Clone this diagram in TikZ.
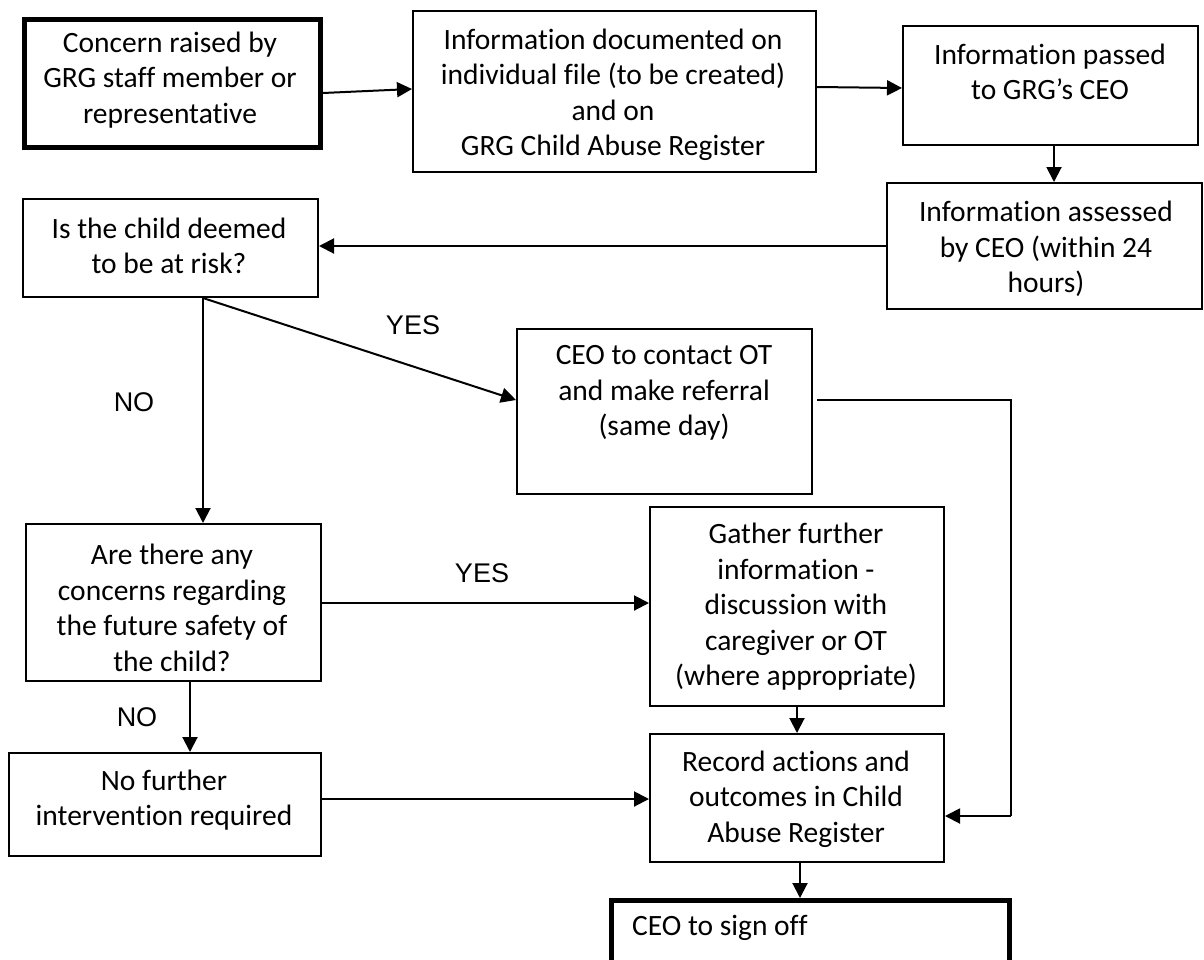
\documentclass[tikz,border=0pt]{standalone}
\usepackage{fontspec}
\setmainfont{Carlito}[Ligatures=NoCommon]
\newfontfamily\arialfont{Liberation Sans}
\usetikzlibrary{arrows.meta}
\tikzset{
  box/.style={draw, line width=2pt, inner sep=0pt, anchor=north west},
  heavybox/.style={draw, line width=5pt, inner sep=0pt, anchor=north west},
  txt/.style={align=center, inner sep=0pt, font=\fontsize{29.5}{35.5}\selectfont},
  lbl/.style={inner sep=0pt, font=\arialfont\fontsize{27}{30}\selectfont},
  arr/.style={line width=2pt, -{Triangle[length=15pt,width=15pt]}},
  conn/.style={line width=2pt}
}
\begin{document}
\begin{tikzpicture}[x=1pt,y=-1pt]
\useasboundingbox[fill=white] (0,0) rectangle (1204,959);
% boxes
\node[heavybox, minimum width=296pt, minimum height=128pt] (b1) at (22,17) {};
\node[box, minimum width=403pt, minimum height=161pt] (b2) at (412,10) {};
\node[box, minimum width=295pt, minimum height=119pt] (b3) at (902,25) {};
\node[box, minimum width=315pt, minimum height=126pt] (b4) at (886,182) {};
\node[box, minimum width=295pt, minimum height=98pt] (b5) at (22,198) {};
\node[box, minimum width=295pt, minimum height=165pt] (b6) at (516,328) {};
\node[box, minimum width=294pt, minimum height=199pt] (b7) at (649,506) {};
\node[box, minimum width=295pt, minimum height=157pt] (b8) at (25,523) {};
\node[box, minimum width=312pt, minimum height=103pt] (b9) at (8,752) {};
\node[box, minimum width=294pt, minimum height=128pt] (b10) at (649,733) {};
\node[heavybox, minimum width=398pt, minimum height=100pt] (b11) at (609,898) {};
% texts
\node[txt] (t1) at (170,80) {Concern raised by\\GRG staff member or\\representative};
\node[txt] (t2) at (613,95) {Information documented on\\individual file (to be created)\\and on\\GRG Child Abuse Register};
\node[txt] (t3) at (1050,72) {Information passed\\to GRG’s CEO};
\node[txt] (t4) at (1046,249) {Information assessed\\by CEO (within 24\\hours)};
\node[txt] (t5) at (169,246) {Is the child deemed\\to be at risk?};
\node[txt] (t6) at (664,393) {CEO to contact OT\\and make referral\\(same day)};
\node[txt] (t7) at (796,607) {Gather further\\information -\\discussion with\\caregiver or OT\\(where appropriate)};
\node[txt] (t8) at (172,608) {Are there any\\concerns regarding\\the future safety of\\the child?};
\node[txt] (t9) at (164,800) {No further\\intervention required};
\node[txt] (t10) at (796,799) {Record actions and\\outcomes in Child\\Abuse Register};
\node[txt, anchor=west] (t11) at (632,928) {CEO to sign off};
% labels
\node[lbl] (yes1) at (413,325) {YES};
\node[lbl] (no1) at (134,402) {NO};
\node[lbl] (yes2) at (482,573) {YES};
\node[lbl] (no2) at (137,717) {NO};
% connectors
\draw[arr] (b1.east |- 0,93) -- (b2.west |- 0,89);
\draw[arr] (b2.east |- 0,87) -- (b3.west |- 0,88);
\draw[arr] (1054,0 |- b3.south) -- (1054,0 |- b4.north);
\draw[arr] (b4.west |- 0,246) -- (b5.east |- 0,246);
\draw[arr] (203,0 |- b5.south) -- (b6.west |- 0,400);
\draw[arr] (203,0 |- b5.south) -- (203,0 |- b8.north);
\coordinate (c1) at (1011,400);
\coordinate (c2) at (1011,816);
\draw[conn] ([xshift=4pt]b6.east |- 0,400) -- (c1) -- (c2);
\draw[arr] (c2) -- (b10.east |- c2);
\draw[arr] (b8.east |- 0,603) -- (b7.west |- 0,603);
\draw[arr] (190,0 |- b8.south) -- (190,0 |- b9.north);
\draw[arr] (b9.east |- 0,799) -- (b10.west |- 0,799);
\draw[arr] (797,0 |- b7.south) -- (797,0 |- b10.north);
\draw[arr] (800,0 |- b10.south) -- (800,0 |- b11.north);
\end{tikzpicture}
\end{document}
